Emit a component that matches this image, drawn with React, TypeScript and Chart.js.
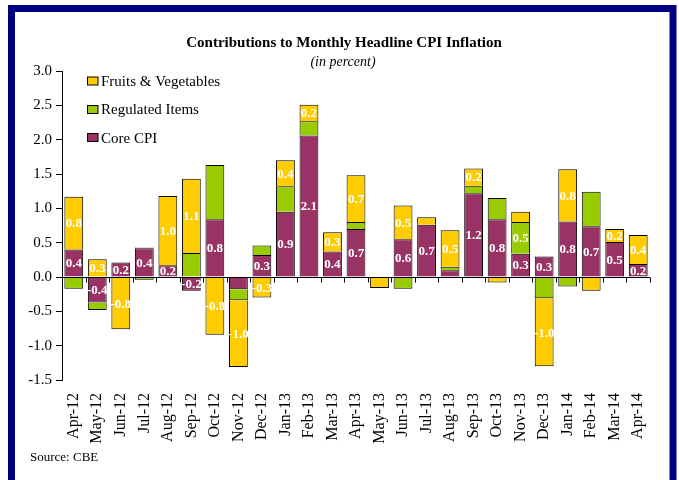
import React, { useEffect, useRef } from "react";
import { Chart, registerables } from "chart.js";

Chart.register(...registerables);

const categories = [
  "Apr-12", "May-12", "Jun-12", "Jul-12", "Aug-12", "Sep-12", "Oct-12", "Nov-12", "Dec-12",
  "Jan-13", "Feb-13", "Mar-13", "Apr-13", "May-13", "Jun-13", "Jul-13", "Aug-13", "Sep-13",
  "Oct-13", "Nov-13", "Dec-13", "Jan-14", "Feb-14", "Mar-14", "Apr-14",
];

const coreCPI = [
  0.4, -0.37, 0.21, 0.42, 0.17, -0.2, 0.84, -0.18, 0.32, 0.95, 2.06, 0.37, 0.7, 0.0, 0.55,
  0.76, 0.1, 1.22, 0.84, 0.34, 0.3, 0.81, 0.74, 0.51, 0.19,
];
const regulatedItems = [
  -0.17, -0.11, 0.0, -0.04, 0.0, 0.35, 0.79, -0.16, 0.14, 0.37, 0.21, 0.0, 0.1, 0.0, -0.17,
  0.0, 0.05, 0.11, 0.31, 0.46, -0.31, -0.14, 0.5, 0.0, 0.0,
];
const fruitsVeg = [
  0.77, 0.26, -0.76, 0.01, 1.01, 1.08, -0.84, -0.97, -0.3, 0.38, 0.24, 0.28, 0.68, -0.16, 0.49,
  0.11, 0.53, 0.25, -0.08, 0.15, -0.99, 0.76, -0.2, 0.19, 0.42,
];

const coreLabels = [
  "0.4", "-0.4", "0.2", "0.4", "0.2", "-0.2", "0.8", "", "0.3", "0.9", "2.1", "0.4", "0.7", "",
  "0.6", "0.7", "", "1.2", "0.8", "0.3", "0.3", "0.8", "0.7", "0.5", "0.2",
];
const regulatedLabels = [
  "", "", "", "", "", "", "", "", "", "", "", "", "", "", "", "", "", "", "", "0.5", "", "", "",
  "", "",
];
const fruitsLabels = [
  "0.8", "0.3", "-0.8", "", "1.0", "1.1", "-0.8", "-1.0", "-0.3", "0.4", "0.2", "0.3", "0.7", "",
  "0.5", "", "0.5", "0.2", "", "", "-1.0", "0.8", "", "0.2", "0.4",
];

const yMin = -1.5;
const yMax = 3.0;
const yStep = 0.5;

const titleText = "Contributions to Monthly Headline CPI Inflation";
const subtitleText = "(in percent)";
const sourceText = "Source: CBE";

const COLORS = {
  fruits: "#FFCC00",
  regulated: "#99CC00",
  core: "#993366",
  frame: "#000080",
};

const SERIF = '"Liberation Serif", "Times New Roman", serif';

export default function App() {
  const canvasRef = useRef<HTMLCanvasElement | null>(null);

  useEffect(() => {
    const canvas = canvasRef.current;
    if (!canvas) return;
    const labelSets = [coreLabels, regulatedLabels, fruitsLabels];

    const framePlugin = {
      id: "frameAndText",
      beforeDraw(chart: any) {
        const ctx = chart.ctx;
        ctx.save();
        ctx.fillStyle = "#ffffff";
        ctx.fillRect(0, 0, chart.width, chart.height);
        ctx.strokeStyle = COLORS.frame;
        ctx.lineWidth = 7;
        ctx.strokeRect(11.5, 8.5, 661.5, 478);
        ctx.fillStyle = "#000";
        ctx.textAlign = "center";
        ctx.textBaseline = "alphabetic";
        ctx.font = `bold 15px ${SERIF}`;
        ctx.fillText(titleText, 344, 46.5);
        ctx.font = `italic 14px ${SERIF}`;
        ctx.fillText(subtitleText, 343, 66);
        ctx.textAlign = "left";
        ctx.font = `13px ${SERIF}`;
        ctx.fillText(sourceText, 30, 460.5);
        ctx.restore();
      },
      afterDatasetsDraw(chart: any) {
        const ctx = chart.ctx;
        const area = chart.chartArea;
        const x = chart.scales.x;
        const y = chart.scales.y;
        const y0 = Math.round(y.getPixelForValue(0)) + 0.5;
        ctx.save();
        ctx.strokeStyle = "#000";
        ctx.lineWidth = 1;
        ctx.beginPath();
        ctx.moveTo(area.left, y0);
        ctx.lineTo(area.right, y0);
        const n = categories.length;
        const half = (x.getPixelForValue(1) - x.getPixelForValue(0)) / 2;
        for (let i = 0; i <= n; i++) {
          const px = Math.round(x.getPixelForValue(Math.min(i, n - 1)) + (i === n ? half : -half)) + 0.5;
          ctx.moveTo(px, y0);
          ctx.lineTo(px, y0 + 5);
        }
        ctx.stroke();

        ctx.fillStyle = "#ffffff";
        ctx.font = `bold 13px ${SERIF}`;
        ctx.textAlign = "center";
        ctx.textBaseline = "middle";
        chart.data.datasets.forEach((_ds: any, d: number) => {
          const meta = chart.getDatasetMeta(d);
          meta.data.forEach((el: any, i: number) => {
            const txt = labelSets[d][i];
            if (!txt) return;
            const c = el.getCenterPoint();
            ctx.fillText(txt, c.x, c.y + 1);
          });
        });
        // legend (reverse order: fruits, regulated, core)
        const items = [
          { label: chart.data.datasets[2].label, color: chart.data.datasets[2].backgroundColor, box: 77, base: 85.7 },
          { label: chart.data.datasets[1].label, color: chart.data.datasets[1].backgroundColor, box: 105.5, base: 114.3 },
          { label: chart.data.datasets[0].label, color: chart.data.datasets[0].backgroundColor, box: 133.5, base: 142.7 },
        ];
        ctx.font = `15px ${SERIF}`;
        ctx.textAlign = "left";
        ctx.textBaseline = "alphabetic";
        items.forEach((it) => {
          ctx.fillStyle = it.color;
          ctx.fillRect(87.5, it.box, 10.5, 8);
          ctx.strokeStyle = "#000";
          ctx.lineWidth = 1;
          ctx.strokeRect(87.5, it.box, 10.5, 8);
          ctx.fillStyle = "#000";
          ctx.fillText(it.label, 101, it.base);
        });
        ctx.restore();
      },
    };

    const chart = new Chart(canvas, {
      type: "bar",
      data: {
        labels: categories,
        datasets: [
          { label: "Core CPI", data: coreCPI, backgroundColor: COLORS.core },
          { label: "Regulated Items", data: regulatedItems, backgroundColor: COLORS.regulated },
          { label: "Fruits & Vegetables", data: fruitsVeg, backgroundColor: COLORS.fruits },
        ].map((d) => ({
          ...d,
          borderColor: "#000000",
          borderWidth: 1,
          borderSkipped: "start",
          barPercentage: 0.8,
          categoryPercentage: 1,
        })),
      },
      options: {
        animation: false,
        responsive: false,
        maintainAspectRatio: false,
        layout: { padding: { left: 0, right: 29, top: 71, bottom: 0 } },
        plugins: {
          legend: { display: false },
          title: { display: false },
          tooltip: { enabled: false },
        },
        scales: {
          x: {
            stacked: true,
            grid: { display: false, drawTicks: false },
            border: { display: false },
            ticks: {
              autoSkip: false,
              minRotation: 90,
              maxRotation: 90,
              padding: 13,
              color: "#000",
              font: { family: SERIF, size: 16 },
            },
            afterFit: (scale: any) => {
              scale.height = 100;
            },
          },
          y: {
            stacked: true,
            min: yMin,
            max: yMax,
            grid: {
              display: true,
              drawOnChartArea: false,
              drawTicks: true,
              tickLength: 6,
              color: "#000",
            },
            border: { display: true, color: "#000", width: 1 },
            ticks: {
              stepSize: yStep,
              padding: 4,
              color: "#000",
              font: { family: SERIF, size: 15 },
              callback: (v: any) => Number(v).toFixed(1),
            },
            afterFit: (scale: any) => {
              scale.width = 62;
            },
          },
        },
      },
      plugins: [framePlugin],
    });

    return () => chart.destroy();
  }, []);

  return (
    <div style={{ position: "absolute", left: 0, top: 0, width: 679, height: 480, background: "#fff" }}>
      <canvas ref={canvasRef} width={679} height={480} style={{ display: "block", width: 679, height: 480 }} />
    </div>
  );
}
